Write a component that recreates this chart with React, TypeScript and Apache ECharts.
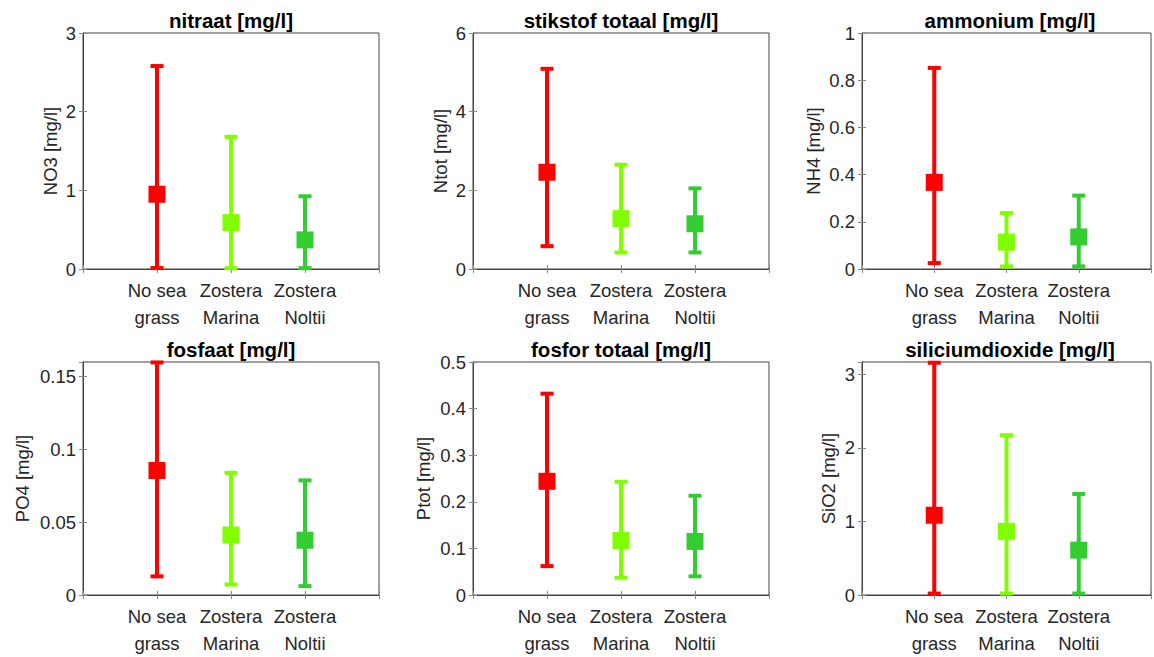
import React, { useEffect, useRef } from "react";
import * as echarts from "echarts";

const categories = ["No sea\ngrass", "Zostera\nMarina", "Zostera\nNoltii"];
const groupColors = ["#ff0000", "#80ff00", "#33cc33"];

const titles = [
  "nitraat [mg/l]",
  "stikstof totaal [mg/l]",
  "ammonium [mg/l]",
  "fosfaat [mg/l]",
  "fosfor totaal [mg/l]",
  "siliciumdioxide [mg/l]",
];
const yLabels = ["NO3 [mg/l]", "Ntot [mg/l]", "NH4 [mg/l]", "PO4 [mg/l]", "Ptot [mg/l]", "SiO2 [mg/l]"];
const yMax = [3, 6, 1, 0.16, 0.5, 3.17];
const yInterval = [1, 2, 0.2, 0.05, 0.1, 1];

// mean, lower end and upper end of error bar, per group
const nitraatMean = [0.95, 0.59, 0.37];
const nitraatLow = [0.012, 0.01, 0.01];
const nitraatHigh = [2.58, 1.68, 0.925];

const stikstofMean = [2.46, 1.28, 1.15];
const stikstofLow = [0.58, 0.42, 0.42];
const stikstofHigh = [5.09, 2.65, 2.05];

const ammoniumMean = [0.367, 0.114, 0.136];
const ammoniumLow = [0.025, 0.011, 0.011];
const ammoniumHigh = [0.852, 0.237, 0.311];

const fosfaatMean = [0.0855, 0.0412, 0.0376];
const fosfaatLow = [0.0128, 0.0072, 0.0061];
const fosfaatHigh = [0.1597, 0.0839, 0.0787];

const fosforMean = [0.244, 0.117, 0.115];
const fosforLow = [0.062, 0.037, 0.04];
const fosforHigh = [0.432, 0.243, 0.213];

const silicMean = [1.085, 0.866, 0.61];
const silicLow = [0.02, 0.02, 0.02];
const silicHigh = [3.16, 2.174, 1.375];

const means = [nitraatMean, stikstofMean, ammoniumMean, fosfaatMean, fosforMean, silicMean];
const lows = [nitraatLow, stikstofLow, ammoniumLow, fosfaatLow, fosforLow, silicLow];
const highs = [nitraatHigh, stikstofHigh, ammoniumHigh, fosfaatHigh, fosforHigh, silicHigh];

const colLeft = [83, 473, 862];
const rowTop = [33, 362];
const boxW = 296;
const boxH = 236;
const yNameGap = [23, 23, 39, 51, 40, 24];

const FONT = "'Liberation Sans', Arial, Helvetica, sans-serif";
const TXT = "#262626";
const AX = "#444444";
const FS = 18.5;

export default function App() {
  const ref = useRef<HTMLDivElement>(null);
  useEffect(() => {
    if (!ref.current) return;
    const chart = echarts.init(ref.current, null, { renderer: "svg" });
    const grids: any[] = [];
    const xAxes: any[] = [];
    const yAxes: any[] = [];
    const series: any[] = [];
    const title: any[] = [];

    for (let i = 0; i < 6; i++) {
      const r = Math.floor(i / 3);
      const c = i % 3;
      const left = colLeft[c];
      const top = rowTop[r];
      grids.push({
        left,
        top,
        width: boxW,
        height: boxH,
        show: true,
        borderColor: AX,
        borderWidth: 1,
        backgroundColor: "#fff",
        containLabel: false,
      });
      title.push({
        text: titles[i],
        left: left + boxW / 2,
        top: top - 23,
        textAlign: "center",
        padding: 0,
        textStyle: { fontFamily: FONT, fontSize: 20.5, fontWeight: "bold", color: "#000" },
      });
      const xBase = {
        type: "value",
        gridIndex: i,
        min: 0,
        max: 4,
        interval: 1,
        splitLine: { show: false },
        axisLine: { show: true, lineStyle: { color: AX, width: 1 } },
        axisTick: { show: true, inside: true, length: 4, lineStyle: { color: "#888" } },
      };
      xAxes.push({
        ...xBase,
        position: "bottom",
        axisLabel: {
          show: true,
          margin: 8,
          fontFamily: FONT,
          fontSize: FS,
          color: TXT,
          lineHeight: 27,
          formatter: (v: number) => (v >= 1 && v <= 3 ? categories[v - 1] : ""),
        },
      });
      xAxes.push({ ...xBase, position: "top", axisLabel: { show: false } });
      const yBase = {
        type: "value",
        gridIndex: i,
        min: 0,
        max: yMax[i],
        interval: yInterval[i],
        splitLine: { show: false },
        axisLine: { show: true, lineStyle: { color: AX, width: 1 } },
        axisTick: { show: true, inside: true, length: 4, lineStyle: { color: "#888" } },
      };
      yAxes.push({
        ...yBase,
        position: "left",
        name: yLabels[i],
        nameLocation: "middle",
        nameGap: yNameGap[i],
        nameTextStyle: { fontFamily: FONT, fontSize: FS, color: TXT },
        axisLabel: {
          show: true,
          margin: 7,
          fontFamily: FONT,
          fontSize: FS,
          color: TXT,
          showMaxLabel: Math.abs(yMax[i] / yInterval[i] - Math.round(yMax[i] / yInterval[i])) < 1e-6,
        },
      });
      yAxes.push({ ...yBase, position: "right", axisLabel: { show: false } });

      const errData = categories.map((_, k) => [k + 1, lows[i][k], highs[i][k]]);
      series.push({
        type: "custom",
        xAxisIndex: 2 * i,
        yAxisIndex: 2 * i,
        data: errData,
        z: 2,
        renderItem: (params: any, api: any) => {
          const x = api.value(0);
          const pLo = api.coord([x, api.value(1)]);
          const pHi = api.coord([x, api.value(2)]);
          const color = groupColors[params.dataIndex];
          const cap = 6.5;
          const style = { stroke: color, lineWidth: 4, fill: null };
          return {
            type: "group",
            children: [
              { type: "line", shape: { x1: pLo[0], y1: pLo[1], x2: pHi[0], y2: pHi[1] }, style },
              { type: "line", shape: { x1: pHi[0] - cap, y1: pHi[1], x2: pHi[0] + cap, y2: pHi[1] }, style },
              { type: "line", shape: { x1: pLo[0] - cap, y1: pLo[1], x2: pLo[0] + cap, y2: pLo[1] }, style },
            ],
          };
        },
      });
      series.push({
        type: "scatter",
        xAxisIndex: 2 * i,
        yAxisIndex: 2 * i,
        symbol: "rect",
        symbolSize: 17,
        z: 3,
        data: categories.map((_, k) => ({
          value: [k + 1, means[i][k]],
          itemStyle: { color: groupColors[k], opacity: 1 },
        })),
      });
    }

    chart.setOption({
      animation: false,
      backgroundColor: "#ffffff",
      title,
      grid: grids,
      xAxis: xAxes,
      yAxis: yAxes,
      series,
    });
    return () => chart.dispose();
  }, []);
  return (
    <div
      ref={ref}
      style={{ position: "absolute", left: 0, top: 0, width: 1154, height: 657, background: "#fff" }}
    />
  );
}
